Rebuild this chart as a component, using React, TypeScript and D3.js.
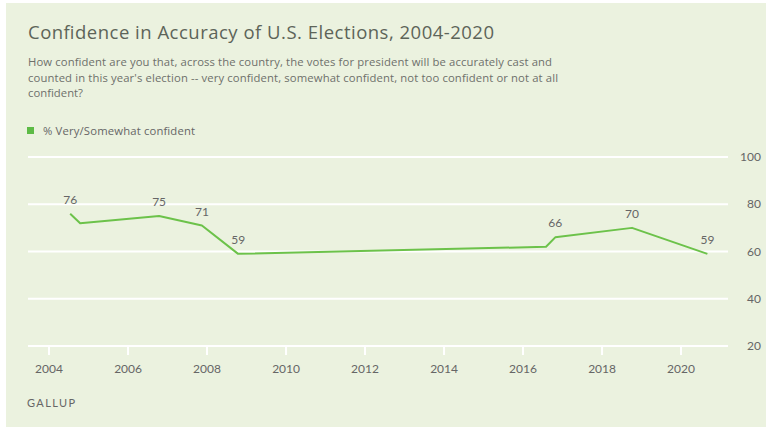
import React from "react";
import * as d3 from "d3";

const dates = ["2004-07-15", "2004-10-15", "2006-10-15", "2007-11-15", "2008-10-15", "2016-08-01", "2016-10-25", "2018-10-05", "2020-09-01"];
const values = [76, 72, 75, 71, 59, 62, 66, 70, 59];
const showLabel = [true, false, true, true, true, false, true, true, true];
const xTickYears = [2004, 2006, 2008, 2010, 2012, 2014, 2016, 2018, 2020];
const yTicks = [20, 40, 60, 80, 100];
const title = "Confidence in Accuracy of U.S. Elections, 2004-2020";
const subtitleLines = [
  "How confident are you that, across the country, the votes for president will be accurately cast and",
  "counted in this year's election -- very confident, somewhat confident, not too confident or not at all",
  "confident?",
];
const legendLabel = "% Very/Somewhat confident";
const source = "GALLUP";

const W = 769;
const H = 429;
const FONT = "'Open Sans', Lato, sans-serif";
const LFONT = "Lato, sans-serif";
const subtitleWidths = [524, 530, 55];

export default function App() {
  const parse = d3.timeParse("%Y-%m-%d");
  const pts = dates.map((d, i) => ({ date: parse(d) as Date, v: values[i], show: showLabel[i] }));
  const x = d3.scaleTime().domain([new Date(2004, 0, 1), new Date(2020, 0, 1)]).range([49, 681]);
  const y = d3.scaleLinear().domain([20, 100]).range([346, 157]);
  const line = d3
    .line<{ date: Date; v: number }>()
    .x((d) => x(d.date))
    .y((d) => y(d.v));
  const gridX0 = 28;
  const gridX1 = 728;
  const green = "#6cc24a";
  return (
    <svg width={W} height={H} style={{ position: "absolute", left: 0, top: 0 }} fontFamily={FONT}>
      <rect x={0} y={0} width={W} height={H} fill="#ffffff" />
      <rect x={6} y={3} width={W - 9} height={H - 5} fill="#ebf2df" />
      <text x={28} y={39} fontSize={18.5} fill="#5d6459" textLength={466} lengthAdjust="spacing">
        {title}
      </text>
      {subtitleLines.map((l, i) => (
        <text key={i} x={28} y={66 + i * 15.5} fontSize={11.3} fill="#6e706b" textLength={subtitleWidths[i]} lengthAdjust="spacing">
          {l}
        </text>
      ))}
      <rect x={27} y={127} width={7} height={7} fill="#5dbb46" />
      <text x={43} y={135} fontSize={11.3} fill="#666" textLength={152} lengthAdjust="spacing">
        {legendLabel}
      </text>
      {yTicks.map((t) => (
        <g key={t}>
          <line x1={gridX0} x2={gridX1} y1={y(t)} y2={y(t)} stroke="#ffffff" strokeWidth={2} />
          <text x={761} y={y(t)} dy="0.35em" textAnchor="end" fontSize={12} fill="#666" fontFamily={LFONT}>
            {t}
          </text>
        </g>
      ))}
      {xTickYears.map((yr) => {
        const xx = x(new Date(yr, 0, 1));
        return (
          <g key={yr}>
            <line x1={xx} x2={xx} y1={y(20)} y2={y(20) + 9} stroke="#ffffff" strokeWidth={2} />
            <text x={xx} y={373} textAnchor="middle" fontSize={12} fill="#666" fontFamily={LFONT}>
              {yr}
            </text>
          </g>
        );
      })}
      <path d={line(pts) || ""} fill="none" stroke={green} strokeWidth={2} strokeLinejoin="round" />
      {pts
        .filter((p) => p.show)
        .map((p, i) => (
          <text key={i} x={x(p.date)} y={y(p.v) - 10} textAnchor="middle" fontSize={12} fill="#666" fontFamily={LFONT}>
            {p.v}
          </text>
        ))}
      <text x={27} y={407} fontSize={11} fill="#666" letterSpacing={1.4} fontFamily={LFONT}>
        {source}
      </text>
    </svg>
  );
}
